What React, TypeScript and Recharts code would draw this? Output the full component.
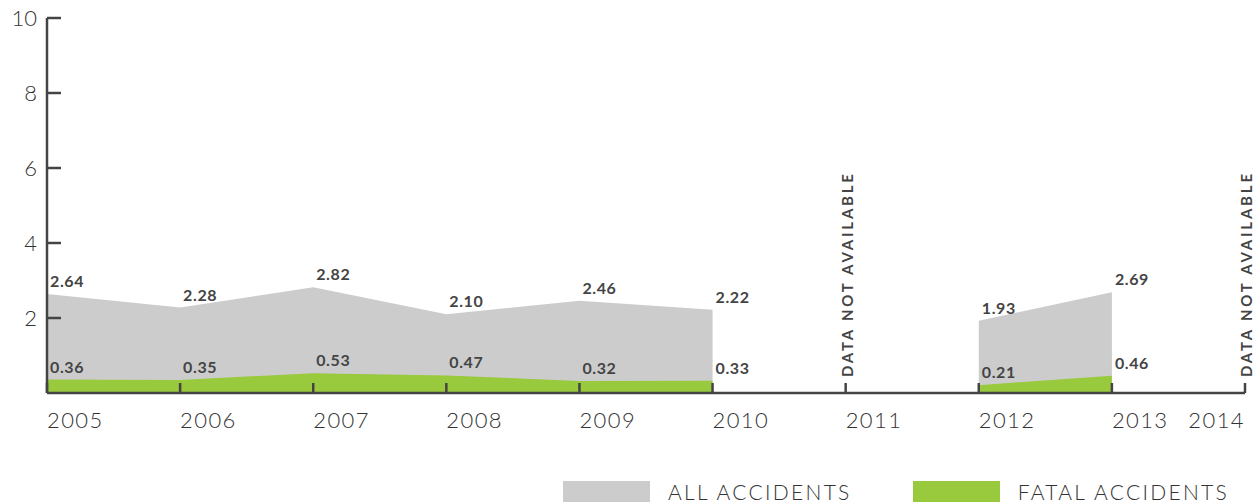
import React from 'react';
import { AreaChart, Area, XAxis, YAxis, LabelList, ReferenceLine } from 'recharts';

const years = [2005, 2006, 2007, 2008, 2009, 2010, 2011, 2012, 2013, 2014];
const allAccidents = [2.64, 2.28, 2.82, 2.1, 2.46, 2.22, null, 1.93, 2.69, null];
const fatalAccidents = [0.36, 0.35, 0.53, 0.47, 0.32, 0.33, null, 0.21, 0.46, null];
const yTicks = [2, 4, 6, 8, 10];
const notAvailableYears = [2011, 2014];

const data = years.map((year, i) => ({ year, all: allAccidents[i], fatal: fatalAccidents[i] }));

const TEXT = '#444444';
const GREY = '#cccccc';
const GREEN = '#99c93c';
const FONT = 'Lato, "Open Sans", sans-serif';

const ValueLabel = (props: any) => {
  const { x, y, value } = props;
  if (value === null || value === undefined) return null;
  return (
    <text x={x + 3} y={y - 7} fill={TEXT} fontSize={16} fontWeight={700} fontFamily={FONT} letterSpacing={0.6}>
      {Number(value).toFixed(2)}
    </text>
  );
};

const XTick = (props: any) => {
  const { x, y, payload } = props;
  const last = payload.value === years[years.length - 1];
  return (
    <g>
      <line x1={x} x2={x} y1={y} y2={y - 10} stroke={TEXT} strokeWidth={2.5} />
      <text x={x} y={y + 35} textAnchor={last ? 'end' : 'start'} fill="#333333" fontSize={22} fontFamily={FONT} fontWeight={300} letterSpacing={1.4}>
        {payload.value}
      </text>
    </g>
  );
};

const YTick = (props: any) => {
  const { x, y, payload } = props;
  return (
    <g>
      <line x1={x} x2={x + 14} y1={y} y2={y} stroke={TEXT} strokeWidth={2.5} />
      <text x={x - 10} y={y + 8} textAnchor="end" fill="#333333" fontSize={22} fontFamily={FONT} fontWeight={300}>
        {payload.value}
      </text>
    </g>
  );
};

const NotAvailable = (props: any) => {
  const { viewBox } = props;
  const cx = viewBox.x + 1;
  const cy = viewBox.y + viewBox.height - 16;
  return (
    <text
      x={cx}
      y={cy}
      transform={`rotate(-90 ${cx} ${cy})`}
      dominantBaseline="central"
      fill={TEXT}
      fontSize={15}
      fontWeight={700}
      fontFamily={FONT}
      letterSpacing={2.8}
    >
      DATA NOT AVAILABLE
    </text>
  );
};

const legendItems = [
  { name: 'ALL ACCIDENTS', color: GREY },
  { name: 'FATAL ACCIDENTS', color: GREEN },
];

export default function App() {
  return (
    <div style={{ position: 'absolute', left: 0, top: 0, width: 1260, height: 504, fontFamily: FONT }}>
      <AreaChart width={1260} height={504} data={data} margin={{ top: 18, right: 15, left: 0, bottom: 0 }}>
        <XAxis
          dataKey="year"
          type="number"
          domain={[2005, 2014]}
          ticks={years}
          interval={0}
          tick={<XTick />}
          tickLine={false}
          tickSize={0}
          tickMargin={0}
          height={111}
          stroke={TEXT}
          strokeWidth={2.5}
        />
        <YAxis
          domain={[0, 10]}
          ticks={yTicks}
          tick={<YTick />}
          tickLine={false}
          tickSize={0}
          tickMargin={0}
          width={47}
          stroke={TEXT}
          strokeWidth={2.5}
          allowDataOverflow
        />
        <Area type="linear" dataKey="all" stroke="none" fill={GREY} fillOpacity={1} isAnimationActive={false}>
          <LabelList dataKey="all" content={<ValueLabel />} />
        </Area>
        <Area type="linear" dataKey="fatal" stroke="none" fill={GREEN} fillOpacity={1} isAnimationActive={false}>
          <LabelList dataKey="fatal" content={<ValueLabel />} />
        </Area>
        {notAvailableYears.map((yr) => (
          <ReferenceLine key={yr} x={yr} stroke="none" label={<NotAvailable />} />
        ))}
      </AreaChart>
      <div style={{ position: 'absolute', top: 479, left: 563, display: 'flex', alignItems: 'center' }}>
        {legendItems.map((item) => (
          <div key={item.name} style={{ display: 'flex', alignItems: 'center', marginRight: 61 }}>
            <div style={{ width: 87, height: 21, background: item.color }} />
            <span style={{ marginLeft: 18, fontSize: 21, fontWeight: 300, letterSpacing: 2.3, color: '#333333', whiteSpace: 'nowrap' }}>{item.name}</span>
          </div>
        ))}
      </div>
    </div>
  );
}
